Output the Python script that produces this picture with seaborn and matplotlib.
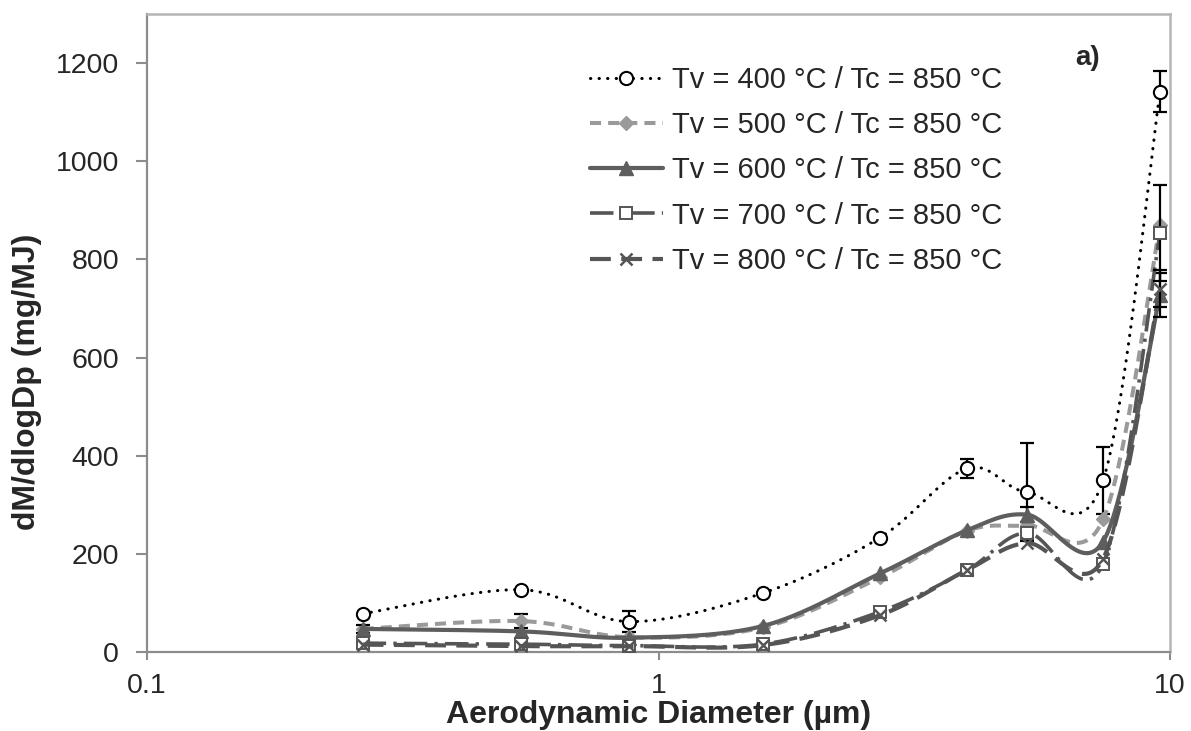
import numpy as np
import pandas as pd
import matplotlib
matplotlib.use("Agg")
import matplotlib.pyplot as plt
from matplotlib.lines import Line2D
import seaborn as sns

# Aerodynamic diameters of the impactor stages (µm)
diameter_um = [0.264, 0.539, 0.876, 1.60, 2.71, 4.01, 5.25, 7.40, 9.56]

series_labels = [
    "Tv = 400 °C / Tc = 850 °C",
    "Tv = 500 °C / Tc = 850 °C",
    "Tv = 600 °C / Tc = 850 °C",
    "Tv = 700 °C / Tc = 850 °C",
    "Tv = 800 °C / Tc = 850 °C",
]

# dM/dlogDp (mg/MJ) and standard deviations per stage
tv400 = [78, 127, 62, 120, 233, 374, 326, 350, 1142]
tv400_err = [0, 0, 21, 0, 0, 20, 100, 68, 42]
tv500 = [47, 63, 30, 50, 152, 247, 258, 270, 870]
tv500_err = [0, 14, 0, 0, 0, 0, 0, 0, 0]
tv600 = [47, 42, 29, 53, 160, 248, 280, 225, 728]
tv600_err = [8, 0, 0, 0, 0, 0, 15, 0, 45]
tv700 = [18, 16, 13, 16, 82, 167, 243, 180, 853]
tv700_err = [0, 0, 0, 0, 0, 0, 0, 0, 98]
tv800 = [15, 12, 12, 14, 75, 167, 222, 190, 740]
tv800_err = [0, 0, 0, 0, 0, 0, 0, 0, 38]

sns.set_style("white")
plt.rcParams["font.family"] = ["Liberation Sans", "DejaVu Sans"]

fig = plt.figure(figsize=(11.91, 7.31), dpi=100)
ax = fig.add_axes([147 / 1191, 1 - 652 / 731, (1170 - 147) / 1191, (652 - 14) / 731])
ax.set_xscale("log")
ax.set_xlim(0.1, 10)
ax.set_ylim(0, 1300)


def smooth_curve(xs, ys, n=40):
    """Smoothed line through the points: cubic Bezier segments whose control
    points lie one sixth of the neighbouring chord away, in display space."""
    p = ax.transData.transform(np.column_stack([xs, ys]))
    p_ext = np.vstack([p[0], p, p[-1]])
    t = np.linspace(0, 1, n)[:, None]
    out = []
    for i in range(len(p) - 1):
        p0 = p_ext[i + 1]
        p3 = p_ext[i + 2]
        c1 = p0 + (p_ext[i + 2] - p_ext[i]) / 6.0
        c2 = p3 - (p_ext[i + 3] - p_ext[i + 1]) / 6.0
        seg = ((1 - t) ** 3) * p0 + 3 * ((1 - t) ** 2) * t * c1 \
            + 3 * (1 - t) * t ** 2 * c2 + t ** 3 * p3
        out.append(seg if i == 0 else seg[1:])
    out = np.vstack(out)
    d = ax.transData.inverted().transform(out)
    return d[:, 0], d[:, 1]


styles = [
    dict(values=tv400, err=tv400_err, color="black", lw=2.2,
         ls=(0, (0.1, 2.7)), cap="round",
         marker="o", ms=9.5, mfc="white", mec="black", mew=1.5),
    dict(values=tv500, err=tv500_err, color="#9a9a9a", lw=2.9,
         ls=(0, (2.75, 1.75)), cap="butt",
         marker="D", ms=7.5, mfc="#9a9a9a", mec="#9a9a9a", mew=1.0),
    dict(values=tv600, err=tv600_err, color="#5e5e5e", lw=3.0,
         ls="-", cap="butt",
         marker="^", ms=10, mfc="#5e5e5e", mec="#5e5e5e", mew=1.0),
    dict(values=tv700, err=tv700_err, color="#555555", lw=2.6,
         ls=(0, (6.5, 2.0, 0.9, 2.0)), cap="butt",
         marker="s", ms=9, mfc="white", mec="#555555", mew=1.4),
    dict(values=tv800, err=tv800_err, color="#555555", lw=3.0,
         ls=(0, (5.0, 2.5)), cap="butt",
         marker="x", ms=8, mfc="#555555", mec="#555555", mew=1.8),
]

handles = []
for k, (st, label) in enumerate(zip(styles, series_labels)):
    sx, sy = smooth_curve(diameter_um, st["values"])
    curve = pd.DataFrame({"d": sx, "m": sy})
    sns.lineplot(data=curve, x="d", y="m", ax=ax, sort=False, estimator=None,
                 color=st["color"], lw=st["lw"], linestyle=st["ls"],
                 dash_capstyle=st["cap"], zorder=2 + k)
    err = np.asarray(st["err"], dtype=float)
    xv = np.asarray(diameter_um)
    yv = np.asarray(st["values"], dtype=float)
    has = err > 0
    if has.any():
        ax.errorbar(xv[has], yv[has], yerr=err[has], fmt="none", ecolor="black",
                    elinewidth=1.6, capsize=5, capthick=1.6, zorder=2.5 + k)
    ax.plot(xv, yv, linestyle="none", marker=st["marker"], ms=st["ms"],
            mfc=st["mfc"], mec=st["mec"], mew=st["mew"], zorder=3 + k)
    handles.append(Line2D([], [], color=st["color"], lw=st["lw"], linestyle=st["ls"],
                          dash_capstyle=st["cap"], marker=st["marker"], ms=st["ms"],
                          mfc=st["mfc"], mec=st["mec"], mew=st["mew"]))

leg = ax.legend(handles, series_labels, loc="upper left",
                bbox_to_anchor=(590 / 1191, 1 - 66 / 731), bbox_transform=fig.transFigure,
                frameon=False, fontsize=21, handlelength=2.5, handletextpad=0.3,
                labelspacing=0.59, borderpad=0, borderaxespad=0, numpoints=1)

ax.text(1100 / 1191, 1 - 58 / 731, "a)", transform=fig.transFigure, ha="right",
        va="center", fontsize=20, fontweight="bold")

ax.set_yticks([0, 200, 400, 600, 800, 1000, 1200])
ax.set_xticks([0.1, 1, 10])
ax.set_xticklabels(["0.1", "1", "10"])
ax.minorticks_off()
ax.tick_params(axis="y", which="major", direction="out", length=8, width=1.5,
               color="#8c8c8c", labelsize=20.5, pad=12, left=True)
ax.tick_params(axis="x", which="major", direction="out", length=6, width=1.5,
               color="#8c8c8c", labelsize=20.5, pad=9, bottom=True)

for side in ("left", "bottom"):
    ax.spines[side].set_color("#8c8c8c")
    ax.spines[side].set_linewidth(1.6)
for side in ("top", "right"):
    ax.spines[side].set_color("#b5b5b5")
    ax.spines[side].set_linewidth(1.8)

ax.set_xlabel("Aerodynamic Diameter (µm)", fontsize=23, fontweight="bold", labelpad=1)
ax.set_ylabel("dM/dlogDp (mg/MJ)", fontsize=23, fontweight="bold")
ax.yaxis.set_label_coords((42 - 147) / 1023, (652 - 382) / 638)

fig.savefig("out.png", dpi=100)
